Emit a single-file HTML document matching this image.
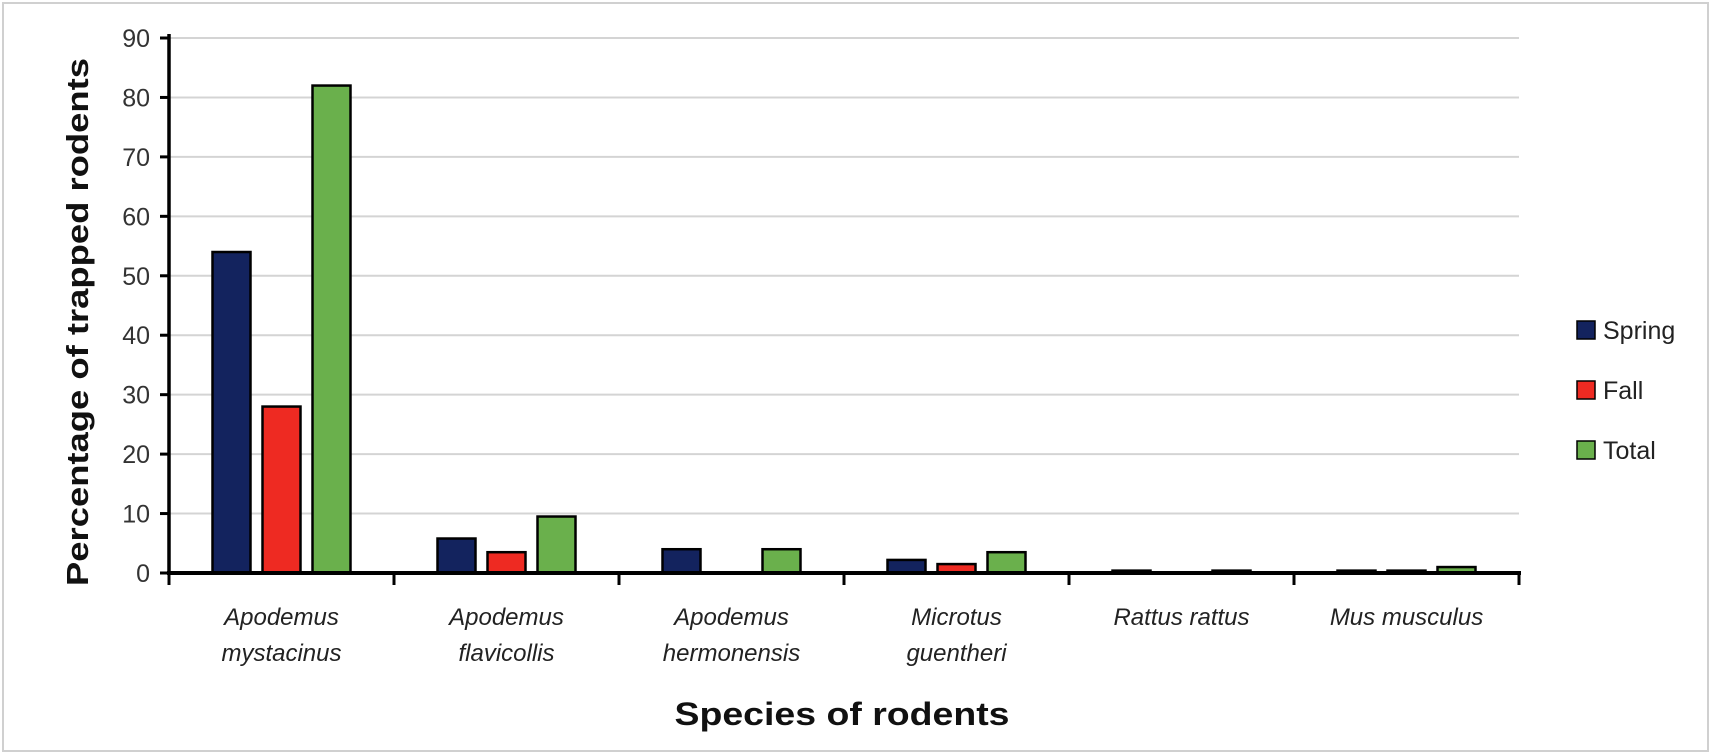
<!DOCTYPE html>
<html><head><meta charset="utf-8"><style>
html,body{margin:0;padding:0;background:#fff}
svg{display:block}
text{font-family:"Liberation Sans",sans-serif}
</style></head><body>
<svg id="chart" width="1711" height="754" viewBox="0 0 1711 754">
<rect x="3" y="3" width="1705" height="748" fill="#fff" stroke="#d0d0d0" stroke-width="2"/>
<g id="grid"></g>
<g id="bars"></g>
<g id="axes"></g>
<text x="0" y="0" transform="translate(88,322) rotate(-90)" text-anchor="middle" font-size="31" font-weight="bold" fill="#111" textLength="528" lengthAdjust="spacingAndGlyphs">Percentage of trapped rodents</text>
<text x="842" y="725" text-anchor="middle" font-size="32" font-weight="bold" fill="#111" textLength="335" lengthAdjust="spacingAndGlyphs">Species of rodents</text>
<g id="legend"></g>
</svg>
<script>
const categories = [["Apodemus","mystacinus"],["Apodemus","flavicollis"],["Apodemus","hermonensis"],["Microtus","guentheri"],["Rattus rattus"],["Mus musculus"]];
const seriesNames = ["Spring","Fall","Total"];
const spring = [54, 5.8, 4, 2.2, 0.4, 0.4];
const fall = [28, 3.5, 0, 1.5, 0, 0.4];
const total = [82, 9.5, 4, 3.5, 0.4, 1.0];
const yTicks = [0,10,20,30,40,50,60,70,80,90];
const colors = ["#13235e","#ee2a22","#6ab04c"];
const NS="http://www.w3.org/2000/svg";
const x0=169, catW=225, y0=573, yMax=90, plotTop=38;
function yScale(v){return y0-(v/yMax)*(y0-plotTop);}
function xCenter(i){return x0+catW*(i+0.5);}
function mk(tag,attrs,parent){const e=document.createElementNS(NS,tag);for(const k in attrs)e.setAttribute(k,attrs[k]);parent.appendChild(e);return e;}
const grid=document.getElementById('grid'),bars=document.getElementById('bars'),axes=document.getElementById('axes'),legend=document.getElementById('legend');
yTicks.forEach(t=>{
  if(t>0){const l=mk('line',{x1:x0,x2:x0+catW*6,y1:yScale(t),y2:yScale(t),stroke:'#d4d4d4','stroke-width':2},grid);
  
  }
  const tk=mk('line',{x1:x0-9,x2:x0,y1:yScale(t),y2:yScale(t),stroke:'#000','stroke-width':3},axes);
  
  
  const tx=mk('text',{x:x0-19,y:yScale(t)+9,'text-anchor':'end','font-size':25,fill:'#333'},axes);
  tx.textContent=t;
  
  
});
const all=[spring,fall,total];
categories.forEach((c,i)=>{
  all.forEach((s,j)=>{
    const v=s[i]; if(v<=0) return;
    const cx=xCenter(i)+(j-1)*50;
    const r=mk('rect',{x:cx-19,y:yScale(v),width:38,height:y0-yScale(v),fill:colors[j],stroke:'#000','stroke-width':2.5},bars);
    
    
  });
  const lab=mk('text',{x:xCenter(i),y:625,'text-anchor':'middle','font-size':24,'font-style':'italic',fill:'#222'},axes);
  
  
  c.forEach((line,k)=>{const ts=mk('tspan',{x:xCenter(i),dy:k===0?0:36},lab);ts.textContent=line;});
});
const ya=mk('line',{x1:x0,x2:x0,y1:plotTop-4,y2:y0+2,stroke:'#000','stroke-width':3.5},axes);


const xa=mk('line',{x1:x0-2,x2:x0+catW*6+2,y1:y0,y2:y0,stroke:'#000','stroke-width':4},axes);


for(let i=0;i<=6;i++){const t=mk('line',{x1:x0+catW*i,x2:x0+catW*i,y1:y0,y2:y0+12,stroke:'#000','stroke-width':3},axes);

}
seriesNames.forEach((n,j)=>{
  const cy=330+j*60;
  const sq=mk('rect',{x:1577,y:cy-9,width:18,height:18,fill:colors[j],stroke:'#000','stroke-width':1.5},legend);
  
  
  const t=mk('text',{x:1603,y:cy+9,'font-size':25,fill:'#222'},legend);
  t.textContent=n;
  
  
});
</script>
</body></html>
